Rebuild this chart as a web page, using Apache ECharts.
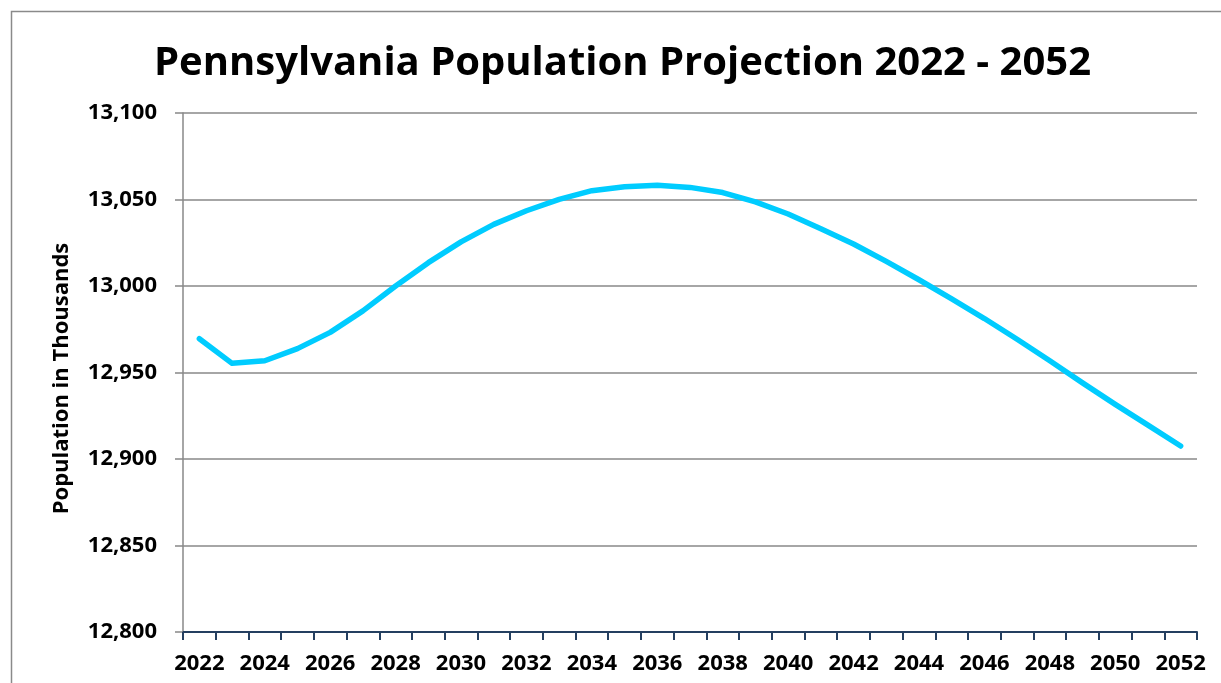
<!DOCTYPE html>
<html>
<head>
<meta charset="utf-8">
<script src="https://cdn.jsdelivr.net/npm/echarts@6/dist/echarts.min.js"></script>
<style>
html,body{margin:0;padding:0;background:#fff;}
#chart{width:1221px;height:683px;}
</style>
</head>
<body>
<div id="chart"></div>
<script>
var titleText = 'Pennsylvania Population Projection 2022 - 2052';
var yAxisName = 'Population in Thousands';
var years = ['2022','2023','2024','2025','2026','2027','2028','2029','2030','2031','2032','2033','2034','2035','2036','2037','2038','2039','2040','2041','2042','2043','2044','2045','2046','2047','2048','2049','2050','2051','2052'];
var population = [12969.5,12955.3,12956.8,12963.8,12973.2,12985.6,13000.0,13013.5,13025.5,13035.6,13043.5,13050.1,13055.1,13057.4,13058.2,13057.0,13054.0,13048.6,13041.6,13033.1,13024.3,13014.2,13003.6,12992.6,12981.2,12969.2,12956.8,12944.0,12931.6,12919.6,12907.5];
var yMin = 12800, yMax = 13100, yStep = 50;

var chart = echarts.init(document.getElementById('chart'), null, {renderer:'canvas'});
var font = '"Open Sans", Lato, sans-serif';
chart.setOption({
  animation:false,
  backgroundColor:'#ffffff',
  graphic:[{
    type:'rect', silent:true, z:-1,
    shape:{x:11.5,y:11.5,width:1400,height:900},
    style:{fill:'none',stroke:'#8a8a8a',lineWidth:1.5}
  }],
  title:{
    text:titleText, left:149, top:39,
    textStyle:{fontFamily:font,fontWeight:'bold',fontSize:40,color:'#000'}
  },
  grid:{left:183,right:24,top:113,bottom:51,containLabel:false},
  xAxis:{
    type:'category', data:years, boundaryGap:true,
    axisLine:{lineStyle:{color:'#243f60',width:2}},
    axisTick:{show:true,interval:0,length:8,lineStyle:{color:'#243f60',width:2}},
    axisLabel:{interval:1,margin:21,fontFamily:font,fontWeight:'bold',fontSize:22,color:'#000'},
    splitLine:{show:false}
  },
  yAxis:{
    type:'value', min:yMin, max:yMax, interval:yStep,
    name:yAxisName, nameLocation:'middle', nameGap:110, nameRotate:90,
    nameTextStyle:{fontFamily:font,fontWeight:'bold',fontSize:22,color:'#000',padding:[0,12,0,0]},
    axisLine:{show:true,lineStyle:{color:'#888',width:1.5}},
    axisTick:{show:true,inside:false,length:8,lineStyle:{color:'#888',width:1.5}},
    axisLabel:{margin:26,fontFamily:font,fontWeight:'bold',fontSize:22,color:'#000',
      formatter:function(v){return v.toLocaleString('en-US');}},
    splitLine:{show:true,lineStyle:{color:'#888',width:1.5}}
  },
  series:[{
    type:'line', data:population, showSymbol:false, symbol:'none', smooth:false,
    lineStyle:{color:'#00ccff',width:5.5,cap:'round',join:'round'}
  }]
});
</script>
</body>
</html>
